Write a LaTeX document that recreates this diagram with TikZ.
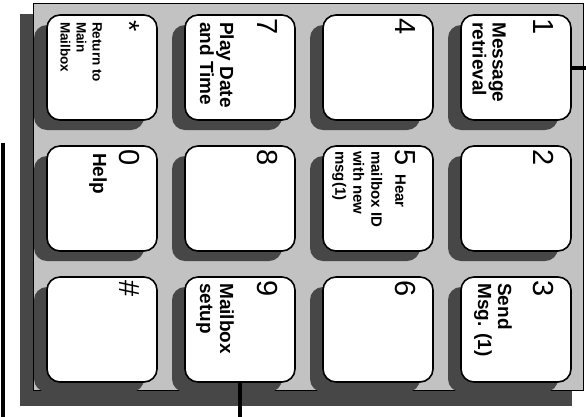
\documentclass[tikz,border=0pt]{standalone}
\usepackage{fontspec}
\setmainfont{Liberation Sans}

\begin{document}
\begin{tikzpicture}[x=1pt,y=1pt,
  panel/.style={fill=black!24, draw=black, line width=0.8pt},
  panelshadow/.style={fill=black!72},
  key/.style={draw, fill=white, line width=1.6pt, rounded corners=13pt,
    minimum width=105pt, minimum height=110pt, inner sep=0pt},
  keyshadow/.style={key, draw=none, fill=black!72},
  digit/.style={inner sep=0pt, anchor=base west, font=\fontsize{29}{29}\selectfont},
  lab/.style={inner sep=0pt, anchor=north west, align=left,
    font=\bfseries\fontsize{19}{20}\selectfont},
  smalllab/.style={lab, font=\bfseries\fontsize{15}{18}\selectfont},
  tinylab/.style={lab, font=\bfseries\fontsize{13.5}{16}\selectfont},
  callout/.style={line width=4pt}]
  \useasboundingbox (0,0) rectangle (586,-416);
  \begin{scope}[rotate=-90, transform shape]
  \fill[panelshadow] (14,20) rectangle (406,572);
  \draw[panel] (3,33) rectangle (390,583);

  \node[keyshadow] (s1) at (77.5,503) {};
  \node[keyshadow] (s2) at (208.5,503) {};
  \node[keyshadow] (s3) at (339.5,503) {};
  \node[keyshadow] (s4) at (77.5,365) {};
  \node[keyshadow] (s5) at (208.5,365) {};
  \node[keyshadow] (s6) at (339.5,365) {};
  \node[keyshadow] (s7) at (77.5,227) {};
  \node[keyshadow] (s8) at (208.5,227) {};
  \node[keyshadow] (s9) at (339.5,227) {};
  \node[keyshadow] (sstar) at (77.5,89) {};
  \node[keyshadow] (s0) at (208.5,89) {};
  \node[keyshadow] (shash) at (339.5,89) {};

  \node[key] (k1) at (67.5,516) {};
  \node[key] (k2) at (198.5,516) {};
  \node[key] (k3) at (329.5,516) {};
  \node[key] (k4) at (67.5,378) {};
  \node[key] (k5) at (198.5,378) {};
  \node[key] (k6) at (329.5,378) {};
  \node[key] (k7) at (67.5,240) {};
  \node[key] (k8) at (198.5,240) {};
  \node[key] (k9) at (329.5,240) {};
  \node[key] (kstar) at (67.5,102) {};
  \node[key] (k0) at (198.5,102) {};
  \node[key] (khash) at (329.5,102) {};

  \node[digit] (d1) at (18,533) {1};
  \node[digit] (d2) at (149,533) {2};
  \node[digit] (d3) at (280,533) {3};
  \node[digit] (d4) at (18,395) {4};
  \node[digit] (d5) at (149,395) {5};
  \node[digit] (d6) at (280,395) {6};
  \node[digit] (d7) at (18,257) {7};
  \node[digit] (d8) at (149,257) {8};
  \node[digit] (d9) at (280,257) {9};
  \node[digit] (dstar) at (20,119) {*};
  \node[digit] (d0) at (149,119) {0};
  \node[digit] (dhash) at (280,119) {\#};

  \node[lab] (l1) at (22,506) {Message\\retrieval};
  \node[lab] (l3) at (283,512) {Send\\Msg. (1)};
  \node[smalllab] (l5) at (151,406) {\hspace*{23pt}Hear\\[6pt]mailbox ID\\with new\\msg(1)};
  \node[lab] (l7) at (22,234) {Play Date\\and Time};
  \node[lab] (l9) at (283,234) {Mailbox\\setup};
  \node[tinylab] (lstar) at (22,102) {Return to\\Main\\Mailbox};
  \node[lab] (l0) at (153,107) {Help};

  \coordinate (c1) at (67.5,590);
  \coordinate (c9) at (420,240);
  \coordinate (la) at (143,3);
  \coordinate (lb) at (420,3);
  \draw[callout] (k1.north) -- (c1);
  \draw[callout] (k9.east) -- (c9);
  \draw[callout] (la) -- (lb);
  \end{scope}
\end{tikzpicture}
\end{document}
